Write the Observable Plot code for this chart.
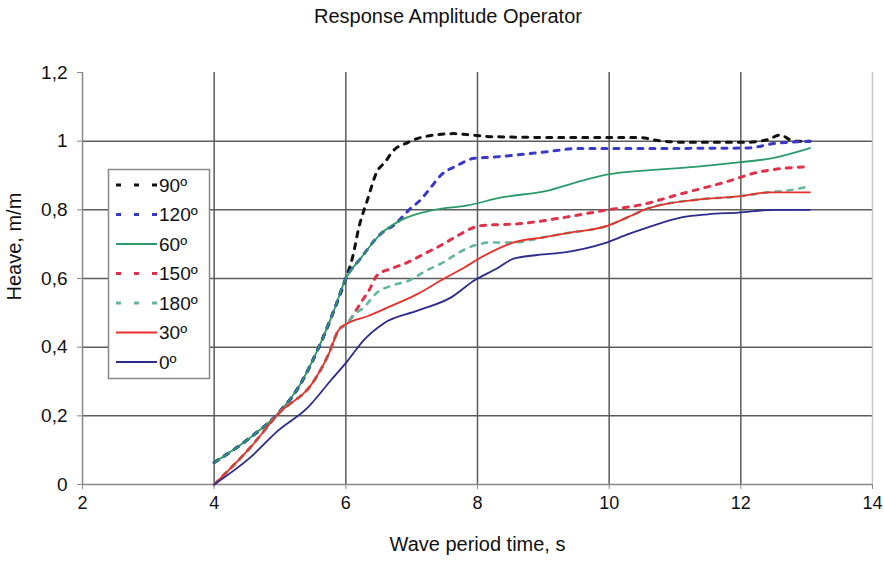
<!DOCTYPE html>
<html><head><meta charset="utf-8">
<script src="https://cdn.jsdelivr.net/npm/d3@7"></script>
<script src="https://cdn.jsdelivr.net/npm/@observablehq/plot@0.6"></script>
<style>
body{margin:0;background:#fff;font-family:"Liberation Sans",Arial,sans-serif;}
#wrap{position:relative;width:884px;height:564px;background:#fff;}
#title{height:30px;line-height:32px;text-align:center;font-size:20px;color:#111;padding-left:12px;box-sizing:border-box;}
#legend{position:absolute;left:0;top:0;pointer-events:none;}
</style></head><body>
<div id="wrap"><div id="title">Response Amplitude Operator</div><div id="chart"></div></div>
<script>
// ---- data ----
const seriesNames = ["90º", "120º", "60º", "150º", "180º", "30º", "0º"];
const seriesColors = ["#111111", "#3a3ac8", "#2a9a6a", "#e0304a", "#62b89c", "#e8302a", "#2c2a8c"];
const seriesDashed = [true, true, false, true, true, false, false];

const x90  = [4, 4.55, 4.97, 5.27, 5.59, 5.82, 6.0, 6.1, 6.2, 6.33, 6.47, 6.6, 6.71, 6.94, 7.19, 7.64, 7.95, 8.23, 8.96, 10.08, 10.44, 10.74, 11.1, 12.1, 12.4, 12.6, 12.8, 13.05];
const y90  = [0.064, 0.137, 0.207, 0.28, 0.40, 0.507, 0.60, 0.66, 0.75, 0.83, 0.91, 0.94, 0.97, 0.996, 1.013, 1.022, 1.017, 1.013, 1.011, 1.011, 1.011, 1.002, 0.997, 0.997, 1.004, 1.018, 1.0, 1.0];
const x120 = [4, 4.55, 4.97, 5.27, 5.59, 5.82, 6.0, 6.23, 6.53, 6.76, 6.96, 7.14, 7.29, 7.44, 7.7, 7.95, 8.2, 8.96, 9.57, 11.1, 12.1, 12.5, 12.77, 13.05];
const y120 = [0.064, 0.137, 0.207, 0.28, 0.40, 0.507, 0.60, 0.66, 0.73, 0.76, 0.80, 0.83, 0.865, 0.90, 0.93, 0.95, 0.953, 0.967, 0.979, 0.979, 0.98, 0.993, 0.997, 1.0];
const x60  = [4, 4.55, 4.97, 5.27, 5.59, 5.82, 6.0, 6.23, 6.53, 6.84, 7.34, 7.85, 8.36, 9.07, 9.5, 9.98, 10.59, 11.3, 11.96, 12.46, 13.05];
const y60  = [0.064, 0.137, 0.207, 0.28, 0.40, 0.507, 0.60, 0.66, 0.73, 0.77, 0.80, 0.813, 0.836, 0.856, 0.88, 0.903, 0.915, 0.925, 0.938, 0.95, 0.98];
const x150 = [4, 4.55, 4.98, 5.51, 5.74, 5.89, 6.03, 6.1, 6.23, 6.35, 6.48, 6.71, 6.94, 7.19, 7.44, 7.7, 7.95, 8.05, 8.66, 9.32, 9.98, 10.44, 11.1, 11.75, 12.27, 13.05];
const y150 = [0, 0.108, 0.207, 0.30, 0.38, 0.45, 0.47, 0.49, 0.53, 0.565, 0.61, 0.63, 0.647, 0.672, 0.696, 0.725, 0.749, 0.754, 0.76, 0.778, 0.80, 0.813, 0.847, 0.88, 0.91, 0.926];
const x180 = [4, 4.55, 4.98, 5.51, 5.74, 5.89, 6.03, 6.1, 6.27, 6.48, 6.71, 6.96, 7.22, 7.48, 7.72, 7.95, 8.2, 8.43, 8.55, 9.0, 9.32, 9.98, 10.3, 10.59, 11.35, 11.96, 12.42, 12.77, 13.05];
const y180 = [0, 0.108, 0.207, 0.30, 0.38, 0.45, 0.47, 0.49, 0.515, 0.56, 0.58, 0.594, 0.623, 0.647, 0.676, 0.696, 0.705, 0.705, 0.705, 0.72, 0.731, 0.754, 0.78, 0.804, 0.83, 0.839, 0.851, 0.858, 0.869];
const x30  = [4, 4.55, 4.98, 5.51, 5.74, 5.89, 6.03, 6.33, 6.64, 7.1, 7.44, 7.8, 8.05, 8.55, 9.0, 9.32, 9.98, 10.3, 10.59, 11.35, 11.96, 12.42, 13.05];
const y30  = [0, 0.108, 0.207, 0.30, 0.38, 0.45, 0.47, 0.49, 0.516, 0.556, 0.594, 0.632, 0.661, 0.705, 0.72, 0.731, 0.754, 0.78, 0.804, 0.83, 0.839, 0.851, 0.851];
const x0   = [4, 4.55, 4.97, 5.42, 5.77, 6.03, 6.27, 6.58, 7.1, 7.6, 7.95, 8.3, 8.55, 9.0, 9.32, 9.92, 10.3, 10.59, 11.1, 11.5, 11.96, 12.5, 13.05];
const y0   = [0, 0.079, 0.157, 0.224, 0.303, 0.361, 0.42, 0.47, 0.507, 0.545, 0.594, 0.63, 0.658, 0.67, 0.676, 0.702, 0.73, 0.749, 0.778, 0.787, 0.792, 0.80, 0.80];

const xTicks = [2, 4, 6, 8, 10, 12, 14];
const yTicks = [0, 0.2, 0.4, 0.6, 0.8, 1.0, 1.2];
const xLabel = "Wave period time, s";
const yLabel = "Heave, m/m";

// ---- build ----
const xs = [x90, x120, x60, x150, x180, x30, x0];
const ys = [y90, y120, y60, y150, y180, y30, y0];
const table = seriesNames.map((name, i) => xs[i].map((x, j) => ({series: name, x, y: ys[i][j]})));
const fmt = d => String(+d.toFixed(2)).replace(".", ",");
const FONT = "'Liberation Sans', Arial, sans-serif";

const W = 884, H = 534;
const mLeft = 82, mRight = 12, mTop = 42, mBottom = 80;

const lineMarks = table.map((rows, i) => Plot.line(rows, {
  x: "x", y: "y", curve: "monotone-x",
  stroke: seriesColors[i],
  strokeWidth: seriesDashed[i] ? (i === 4 ? 2.6 : 3) : 1.8,
  strokeDasharray: seriesDashed[i] ? "5,7" : null
}));

const chart = Plot.plot({
  width: W, height: H,
  marginLeft: mLeft, marginRight: mRight, marginTop: mTop, marginBottom: mBottom,
  style: {fontFamily: FONT, background: "#fff", color: "#111"},
  x: {domain: [2, 14]},
  y: {domain: [0, 1.2]},
  marks: [
    Plot.gridX(xTicks.slice(1, -1), {stroke: "#5c5c5c", strokeOpacity: 1, strokeWidth: 1.5}),
    Plot.gridY(yTicks.slice(1, -1), {stroke: "#5c5c5c", strokeOpacity: 1, strokeWidth: 1.5}),
    Plot.ruleX([14], {stroke: "#c8c8c8", strokeWidth: 1.5}),
    Plot.ruleX([2], {stroke: "#888", strokeWidth: 1.5}),
    Plot.ruleY([0], {stroke: "#888", strokeWidth: 1.5}),
    Plot.axisX({ticks: xTicks, tickFormat: fmt, tickSize: 5, tickPadding: 7, fontSize: 18, stroke: "#888", fill: "#111", label: null}),
    Plot.axisY({ticks: yTicks, tickFormat: fmt, tickSize: 5, tickPadding: 10, fontSize: 19, stroke: "#888", fill: "#111", label: null}),
    ...lineMarks,
    Plot.text([xLabel], {frameAnchor: "bottom", dy: 66, fontSize: 20, fill: "#111"}),
    Plot.text([yLabel], {frameAnchor: "left", dx: -68, dy: 22, rotate: -90, fontSize: 20, fill: "#111"})
  ]
});
document.getElementById("chart").appendChild(chart);

// ---- legend ----
const leg = d3.select("#wrap").append("svg").attr("id", "legend").attr("width", 884).attr("height", 564);
leg.append("rect").attr("x", 108.5).attr("y", 169.5).attr("width", 101).attr("height", 209)
  .attr("fill", "#fff").attr("stroke", "#888").attr("stroke-width", 1.5);
seriesNames.forEach((name, i) => {
  const yy = 185 + i * 29.5;
  leg.append("line").attr("x1", 116).attr("x2", 157).attr("y1", yy).attr("y2", yy)
    .attr("stroke", seriesColors[i])
    .attr("stroke-width", seriesDashed[i] ? 3 : 1.8)
    .attr("stroke-dasharray", seriesDashed[i] ? "5,13" : null);
  leg.append("text").attr("x", 159).attr("y", yy).attr("dy", "0.35em")
    .attr("font-size", 19).attr("font-family", FONT)
    .attr("fill", "#111").text(name);
});
</script>
</body></html>
